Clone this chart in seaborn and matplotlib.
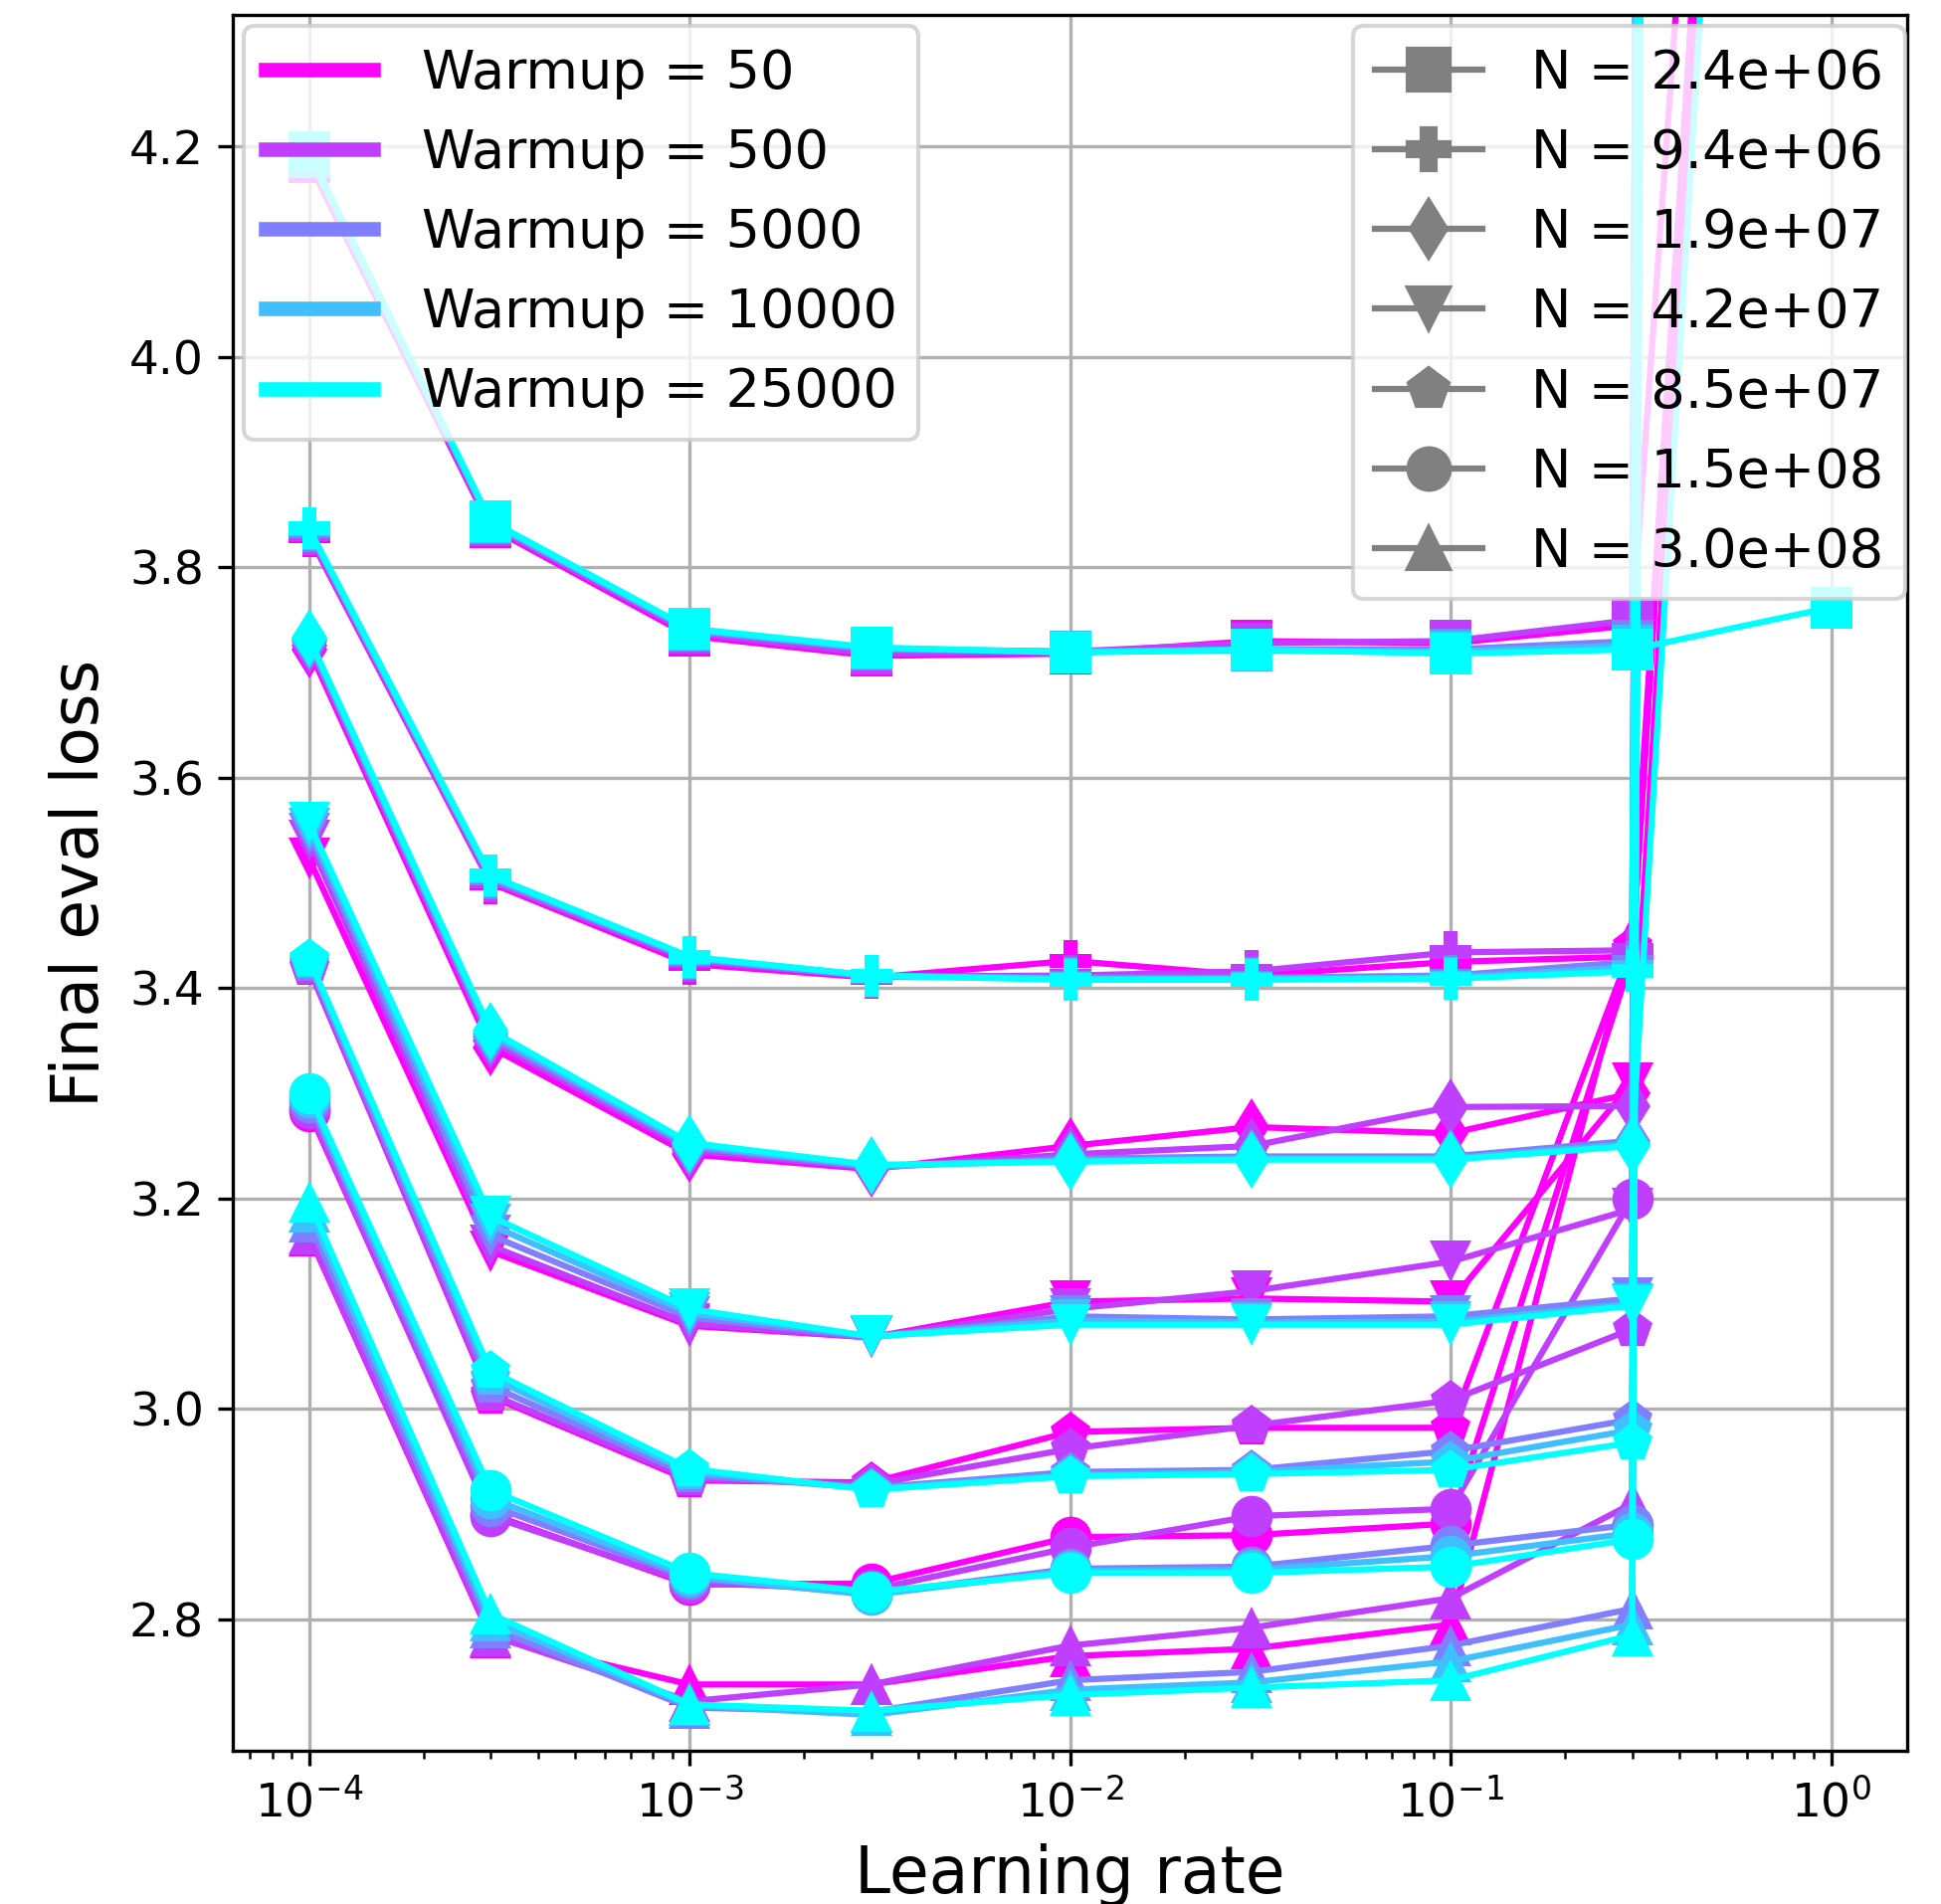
import numpy as np
import pandas as pd
import matplotlib
matplotlib.use("Agg")
import matplotlib.pyplot as plt
from matplotlib.lines import Line2D
import seaborn as sns

# Learning-rate sweep
learning_rates = [1e-4, 3e-4, 1e-3, 3e-3, 1e-2, 3e-2, 1e-1, 3e-1, 1e0]
warmups = [50, 500, 5000, 10000, 25000]
model_sizes = [2.4e6, 9.4e6, 1.9e7, 4.2e7, 8.5e7, 1.5e8, 3.0e8]
size_markers = ["s", "P", "d", "v", "p", "o", "^"]

# Final eval loss per model size; one row per warmup (50, 500, 5000, 10000, 25000)
loss_2_4e6 = [
    [4.185, 3.838, 3.735, 3.716, 3.718, 3.730, 3.728, 3.745, 6.4],
    [4.190, 3.840, 3.738, 3.718, 3.720, 3.728, 3.730, 3.750, 40.0],
    [4.190, 3.842, 3.740, 3.722, 3.720, 3.722, 3.722, 3.730, 40.0],
    [4.190, 3.843, 3.741, 3.723, 3.720, 3.721, 3.720, 3.726, 40.0],
    [4.195, 3.844, 3.742, 3.724, 3.719, 3.722, 3.718, 3.722, 3.762],
]
loss_9_4e6 = [
    [3.830, 3.500, 3.423, 3.410, 3.426, 3.412, 3.425, 3.430, 6.4],
    [3.832, 3.502, 3.426, 3.411, 3.412, 3.416, 3.434, 3.436, 40.0],
    [3.834, 3.504, 3.428, 3.411, 3.410, 3.410, 3.412, 3.425, 40.0],
    [3.836, 3.506, 3.429, 3.412, 3.409, 3.409, 3.410, 3.420, 40.0],
    [3.837, 3.507, 3.430, 3.412, 3.408, 3.408, 3.409, 3.416, 40.0],
]
loss_1_9e7 = [
    [3.722, 3.344, 3.242, 3.228, 3.250, 3.268, 3.262, 3.300, 6.4],
    [3.726, 3.350, 3.246, 3.229, 3.242, 3.250, 3.287, 3.288, 40.0],
    [3.729, 3.354, 3.249, 3.230, 3.238, 3.240, 3.240, 3.255, 40.0],
    [3.731, 3.357, 3.251, 3.231, 3.236, 3.238, 3.238, 3.252, 40.0],
    [3.733, 3.360, 3.253, 3.232, 3.235, 3.237, 3.237, 3.250, 6.4],
]
loss_4_2e7 = [
    [3.523, 3.150, 3.079, 3.068, 3.102, 3.105, 3.102, 3.310, 6.4],
    [3.540, 3.155, 3.081, 3.068, 3.095, 3.112, 3.140, 3.190, 40.0],
    [3.547, 3.165, 3.087, 3.068, 3.088, 3.085, 3.088, 3.105, 40.0],
    [3.552, 3.175, 3.091, 3.069, 3.084, 3.082, 3.083, 3.100, 40.0],
    [3.557, 3.183, 3.095, 3.069, 3.080, 3.080, 3.080, 3.098, 40.0],
]
loss_8_5e7 = [
    [3.419, 3.012, 2.932, 2.930, 2.978, 2.982, 2.982, 3.440, 6.4],
    [3.420, 3.014, 2.934, 2.928, 2.962, 2.984, 3.008, 3.076, 40.0],
    [3.423, 3.022, 2.937, 2.925, 2.940, 2.942, 2.960, 2.990, 40.0],
    [3.426, 3.030, 2.940, 2.924, 2.937, 2.940, 2.950, 2.980, 40.0],
    [3.428, 3.036, 2.943, 2.923, 2.936, 2.938, 2.942, 2.968, 40.0],
]
loss_1_5e8 = [
    [3.283, 2.900, 2.833, 2.834, 2.878, 2.880, 2.891, 3.430, 6.4],
    [3.286, 2.898, 2.835, 2.828, 2.868, 2.898, 2.905, 3.200, 40.0],
    [3.292, 2.908, 2.839, 2.824, 2.848, 2.850, 2.870, 2.890, 40.0],
    [3.296, 2.915, 2.841, 2.823, 2.846, 2.847, 2.860, 2.882, 40.0],
    [3.300, 2.923, 2.844, 2.826, 2.844, 2.844, 2.850, 2.876, 40.0],
]
loss_3_0e8 = [
    [3.165, 2.783, 2.738, 2.738, 2.765, 2.772, 2.795, 3.450, 6.4],
    [3.167, 2.785, 2.722, 2.738, 2.775, 2.792, 2.820, 2.910, 40.0],
    [3.178, 2.792, 2.716, 2.712, 2.742, 2.750, 2.775, 2.810, 40.0],
    [3.188, 2.799, 2.718, 2.709, 2.733, 2.740, 2.760, 2.795, 40.0],
    [3.197, 2.805, 2.719, 2.713, 2.728, 2.735, 2.742, 2.785, 40.0],
]
losses = [loss_2_4e6, loss_9_4e6, loss_1_9e7, loss_4_2e7,
          loss_8_5e7, loss_1_5e8, loss_3_0e8]

rows = []
for n, table in zip(model_sizes, losses):
    for w, series in zip(warmups, table):
        for lr, v in zip(learning_rates, series):
            rows.append({"lr": lr, "loss": v, "warmup": w, "N": n})
df = pd.DataFrame(rows)

palette = {w: plt.cm.cool(c) for w, c in zip(warmups, [1.0, 0.75, 0.5, 0.25, 0.0])}
marker_map = dict(zip(model_sizes, size_markers))

fig = plt.figure(figsize=(1951 / 300, 1914 / 300), dpi=300)
ax = fig.add_axes([0.12, 0.0805, 0.8626, 0.9115])

sns.lineplot(data=df, x="lr", y="loss", hue="warmup", style="N",
             hue_order=warmups, style_order=model_sizes,
             palette=palette, markers=marker_map, dashes=False,
             markersize=10, markeredgewidth=0, linewidth=1.5,
             legend=False, ax=ax)

ax.set_xscale("log")
ax.set_xlim(10 ** -4.2, 10 ** 0.2)
ax.set_ylim(2.675, 4.325)
ax.set_yticks(np.arange(2.8, 4.21, 0.2))
ax.grid(True, which="major", color="#b0b0b0", linewidth=0.8)
ax.tick_params(axis="both", which="major", labelsize=11.3)
ax.set_xlabel("Learning rate", fontsize=15.5)
ax.set_ylabel("Final eval loss", fontsize=15.5)

warm_handles = [Line2D([0], [0], color=palette[w], lw=3.5) for w in warmups]
warm_labels = [f"Warmup = {w}" for w in warmups]
leg1 = ax.legend(warm_handles, warm_labels, loc="upper left", fontsize=13,
                 handlelength=2.0, labelspacing=0.52, borderaxespad=0.2,
                 handletextpad=0.9)
ax.add_artist(leg1)

size_handles = [Line2D([0], [0], color="gray", marker=m, markersize=10, lw=1.5)
                for m in size_markers]
size_labels = [f"N = {n:.1e}" for n in model_sizes]
ax.legend(size_handles, size_labels, loc="upper right", fontsize=13,
          bbox_to_anchor=(1.005, 1.0),
          handlelength=2.0, labelspacing=0.52, borderaxespad=0.2,
          handletextpad=0.9)

fig.savefig("out.png", dpi=300)
